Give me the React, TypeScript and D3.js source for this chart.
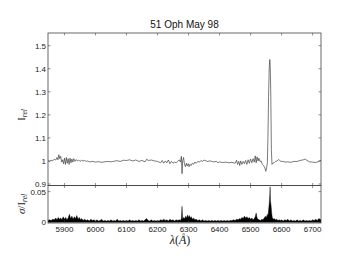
import React from "react";
import * as d3 from "d3";

// Relative intensity spectrum (wavelength in Å, I_rel)
const specWave = [5847,5852,5857,5862,5867,5872,5876,5879,5882,5885,5888,5891,5894,5897,5900,5903,5906,5909,5912,5915,5918,5921,5924,5927,5930,5934,5938,5942,5946,5950,5955,5960,5965,5970,5975,5980,5990,6000,6010,6020,6030,6040,6050,6060,6070,6080,6090,6100,6110,6120,6130,6140,6150,6160,6165,6170,6180,6190,6200,6210,6215,6220,6225,6230,6235,6240,6245,6250,6255,6260,6265,6270,6274,6277,6279,6281,6284,6287,6290,6293,6296,6299,6302,6305,6308,6312,6316,6320,6325,6330,6335,6340,6345,6350,6360,6370,6380,6390,6395,6400,6410,6420,6430,6440,6450,6455,6458,6462,6465,6468,6472,6476,6480,6484,6488,6492,6496,6500,6504,6508,6512,6515,6518,6521,6524,6527,6530,6534,6538,6542,6546,6549,6551,6554,6556,6558,6560,6562,6563,6564,6565,6566,6567,6569,6572,6576,6580,6585,6590,6594,6598,6605,6612,6620,6630,6640,6650,6660,6670,6676,6680,6690,6700,6710,6720,6727];
const specFlux = [1.000,0.998,1.003,1.000,1.008,1.004,1.015,1.005,1.027,1.010,1.020,0.995,1.005,0.988,1.012,0.985,1.015,0.990,1.010,0.985,1.012,0.992,1.008,0.995,1.010,0.998,1.006,1.000,1.004,0.998,1.003,1.000,1.002,0.998,1.000,0.996,0.998,0.995,0.997,0.994,0.996,0.998,0.996,0.999,1.001,0.998,1.003,1.002,1.005,1.000,1.004,0.998,1.002,0.996,1.008,1.002,1.004,1.000,0.998,0.992,1.002,0.990,1.000,0.992,1.004,0.988,0.998,0.990,0.995,0.992,0.998,1.005,0.995,1.020,0.945,1.000,1.015,0.985,0.975,0.990,0.978,0.988,0.975,0.985,0.980,0.990,0.985,0.995,0.990,0.998,0.995,1.002,0.998,1.004,0.998,1.000,0.996,0.998,0.992,0.996,0.993,0.995,0.992,0.994,0.990,1.003,0.985,0.998,0.980,1.000,0.985,0.998,0.988,1.002,0.985,1.005,0.990,1.008,0.992,1.010,0.995,1.022,0.992,1.018,1.000,1.012,0.998,1.000,0.985,0.980,0.970,0.955,0.965,0.990,1.100,1.280,1.400,1.440,1.420,1.380,1.300,1.180,1.050,0.985,0.990,0.992,0.998,1.000,1.006,1.002,0.998,0.998,0.995,0.996,0.994,0.998,0.998,1.002,1.005,1.008,1.004,0.996,0.995,0.993,0.998,1.003];

// Relative noise sigma / I_rel
const sigWave = [5847,5852,5857,5862,5867,5872,5876,5880,5884,5888,5892,5896,5900,5904,5908,5912,5916,5920,5924,5928,5932,5936,5940,5944,5948,5952,5956,5960,5965,5970,5975,5980,5985,5990,5995,6000,6005,6010,6015,6020,6025,6030,6035,6040,6045,6050,6055,6060,6065,6070,6075,6080,6085,6090,6095,6100,6105,6110,6115,6120,6125,6130,6135,6140,6145,6150,6155,6160,6165,6170,6175,6180,6185,6190,6195,6200,6205,6210,6215,6220,6225,6230,6235,6240,6245,6250,6255,6260,6265,6270,6274,6277,6279,6281,6284,6288,6291,6294,6297,6300,6303,6306,6309,6312,6316,6320,6325,6330,6335,6340,6345,6350,6355,6360,6365,6370,6375,6380,6385,6390,6395,6400,6405,6410,6415,6420,6425,6430,6435,6440,6445,6450,6455,6460,6464,6468,6472,6476,6480,6484,6488,6492,6496,6500,6504,6508,6512,6515,6518,6521,6524,6528,6532,6536,6540,6544,6548,6551,6554,6556,6558,6560,6562,6563,6564,6566,6568,6570,6573,6576,6580,6584,6588,6592,6596,6600,6605,6610,6615,6620,6625,6630,6635,6640,6645,6650,6655,6660,6665,6670,6675,6680,6685,6690,6695,6700,6705,6710,6715,6720,6727];
const sigVal = [0.003,0.004,0.003,0.005,0.004,0.007,0.004,0.008,0.005,0.007,0.004,0.009,0.005,0.008,0.004,0.007,0.013,0.006,0.010,0.005,0.009,0.006,0.011,0.005,0.008,0.004,0.006,0.003,0.005,0.003,0.004,0.002,0.005,0.003,0.004,0.002,0.004,0.002,0.003,0.005,0.002,0.003,0.002,0.003,0.002,0.004,0.002,0.003,0.002,0.005,0.002,0.003,0.002,0.003,0.002,0.003,0.002,0.004,0.002,0.003,0.002,0.003,0.002,0.004,0.002,0.003,0.002,0.004,0.006,0.003,0.002,0.004,0.002,0.003,0.002,0.003,0.002,0.004,0.003,0.005,0.003,0.004,0.002,0.005,0.003,0.004,0.002,0.004,0.003,0.004,0.003,0.006,0.026,0.005,0.008,0.006,0.010,0.007,0.012,0.008,0.011,0.007,0.009,0.005,0.007,0.004,0.005,0.003,0.004,0.002,0.004,0.002,0.003,0.002,0.003,0.002,0.003,0.002,0.003,0.002,0.003,0.002,0.003,0.002,0.003,0.002,0.003,0.002,0.003,0.003,0.004,0.003,0.005,0.004,0.006,0.005,0.008,0.006,0.010,0.007,0.009,0.006,0.008,0.005,0.007,0.004,0.006,0.009,0.015,0.007,0.005,0.004,0.003,0.005,0.004,0.007,0.010,0.008,0.013,0.010,0.020,0.030,0.045,0.058,0.035,0.028,0.015,0.008,0.005,0.006,0.004,0.005,0.003,0.004,0.003,0.004,0.002,0.004,0.003,0.005,0.002,0.004,0.002,0.003,0.002,0.004,0.002,0.003,0.002,0.004,0.002,0.003,0.002,0.003,0.002,0.004,0.003,0.005,0.003,0.006,0.004];

const xTicks = [5900,6000,6100,6200,6300,6400,6500,6600,6700];
const yTicksTop = [0.9,1,1.1,1.2,1.3,1.4,1.5];
const yTicksBot = [0,0.05];
const title = "51 Oph May 98";

const W = 341, H = 256;
const L = 48, R = 321, T1 = 33, B1 = 185.5, T2 = 185.5, B2 = 223;
const axisCol = "#444";
const tickFont = "Liberation Sans, Arial, sans-serif";

export default function App() {
  const x = d3.scaleLinear().domain([5847, 6727]).range([L, R]);
  const yT = d3.scaleLinear().domain([0.9, 1.555]).range([B1 - 1.5, T1]);
  const yB = d3.scaleLinear().domain([0, 0.06]).range([B2 - 0.7, T2]);

  const spec = specWave.map((w, i) => [w, specFlux[i]] as [number, number]);
  const sig = sigWave.map((w, i) => [w, sigVal[i]] as [number, number]);

  const line = d3.line<[number, number]>().x(d => x(d[0])).y(d => yT(d[1]));
  const area = d3.area<[number, number]>().x(d => x(d[0])).y0(yB(0)).y1(d => yB(d[1]));

  const tk = 2.5;
  return (
    <svg width={W} height={H} style={{ position: "absolute", left: 0, top: 0 }}>
      <rect x={0} y={0} width={W} height={H} fill="#fff" />
      <text x={(L + R) / 2} y={28} textAnchor="middle" fontFamily={tickFont} fontSize={10} fill="#111">{title}</text>

      <defs>
        <clipPath id="c1"><rect x={L} y={T1} width={R - L} height={B1 - T1} /></clipPath>
        <clipPath id="c2"><rect x={L} y={T2} width={R - L} height={B2 - T2} /></clipPath>
      </defs>

      <g clipPath="url(#c1)">
        <path d={line(spec) || ""} fill="none" stroke="#333" strokeWidth={0.65} />
      </g>
      <g clipPath="url(#c2)">
        <path d={area(sig) || ""} fill="#000" stroke="#000" strokeWidth={0.4} />
      </g>

      <rect x={L} y={T1} width={R - L} height={B1 - T1} fill="none" stroke={axisCol} strokeWidth={0.8} />
      <rect x={L} y={T2} width={R - L} height={B2 - T2} fill="none" stroke={axisCol} strokeWidth={0.8} />

      {xTicks.map(t => (
        <g key={"x" + t} stroke={axisCol} strokeWidth={0.6}>
          <line x1={x(t)} x2={x(t)} y1={T1} y2={T1 + tk} />
          <line x1={x(t)} x2={x(t)} y1={B1} y2={B1 - tk} />
          <line x1={x(t)} x2={x(t)} y1={T2} y2={T2 + tk} />
          <line x1={x(t)} x2={x(t)} y1={B2} y2={B2 - tk} />
        </g>
      ))}
      {xTicks.map(t => (
        <text key={"xl" + t} x={x(t)} y={232} textAnchor="middle" fontFamily={tickFont} fontSize={8} fill="#222">{t}</text>
      ))}

      {yTicksTop.map(t => (
        <g key={"yt" + t}>
          <line x1={L} x2={L + tk} y1={yT(t)} y2={yT(t)} stroke={axisCol} strokeWidth={0.6} />
          <line x1={R} x2={R - tk} y1={yT(t)} y2={yT(t)} stroke={axisCol} strokeWidth={0.6} />
          <text x={L - 2} y={yT(t) + 3} textAnchor="end" fontFamily={tickFont} fontSize={8} fill="#222">{d3.format("~g")(t)}</text>
        </g>
      ))}
      {yTicksBot.map(t => (
        <g key={"yb" + t}>
          <line x1={L} x2={L + tk} y1={yB(t)} y2={yB(t)} stroke={axisCol} strokeWidth={0.6} />
          <line x1={R} x2={R - tk} y1={yB(t)} y2={yB(t)} stroke={axisCol} strokeWidth={0.6} />
          <text x={L - 2} y={yB(t) + 3} textAnchor="end" fontFamily={tickFont} fontSize={8} fill="#222">{d3.format("~g")(t)}</text>
        </g>
      ))}

      <text transform="translate(25,115) rotate(-90)" textAnchor="middle" fontFamily="Liberation Serif, serif" fontSize={11} fill="#222">
        I<tspan fontSize={7.5} dy={2} fontStyle="italic">rel</tspan>
      </text>
      <text transform="translate(25,204) rotate(-90)" textAnchor="middle" fontFamily="Liberation Serif, serif" fontSize={11} fill="#222">
        <tspan fontStyle="italic">σ</tspan>/I<tspan fontSize={7.5} dy={2} fontStyle="italic">rel</tspan>
      </text>
      <text x={180} y={244} textAnchor="middle" fontFamily="Liberation Serif, serif" fontSize={12} fill="#222">
        <tspan fontStyle="italic">λ</tspan>(<tspan fontStyle="italic">Å</tspan>)
      </text>
    </svg>
  );
}
